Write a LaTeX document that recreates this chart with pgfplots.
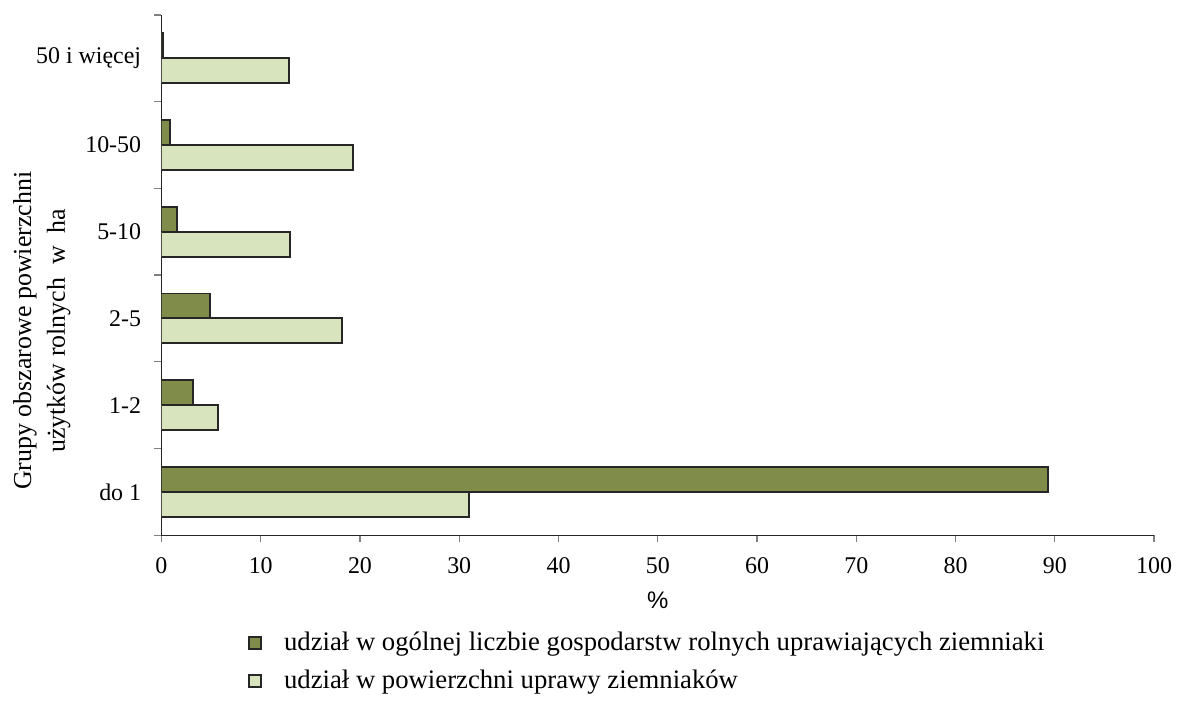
\documentclass[border=0pt]{standalone}
\usepackage{fontspec}
\setmainfont{Liberation Serif}
\newfontfamily\arial{Liberation Sans}
\usepackage{pgfplots}
\pgfplotsset{compat=1.18}
\definecolor{darkolive}{HTML}{7F8C4A}
\definecolor{lightolive}{HTML}{D7E4BD}
\definecolor{barline}{HTML}{262626}

\begin{document}
\fontsize{12}{14}\selectfont
\begin{tikzpicture}
\begin{axis}[
  scale only axis,
  width=498pt, height=261pt,
  xbar, bar width=12.5pt,
  xmin=0, xmax=100, ymin=-0.5, ymax=5.5,
  axis lines=left,
  axis line style={-, black!85, line width=0.6pt},
  xtick={0,10,...,100},
  ytick={0,...,5},
  yticklabels={do 1,1-2,2-5,5-10,10-50,50 i więcej},
  minor ytick={-0.5,0.5,...,5.5},
  tick align=outside,
  major tick length=3.5pt,
  minor tick length=3.5pt,
  every major y tick/.append style={draw=none},
  every minor y tick/.append style={gray, line width=0.6pt},
  every major x tick/.append style={gray, line width=0.6pt},
  tick label style={font=\fontsize{12}{14}\selectfont},
  xticklabel style={yshift=-3.5pt},
  yticklabel style={xshift=-2.5pt},
  /pgf/number format/assume math mode=true,
  every axis y label/.style={at={([xshift=-60pt]rel axis cs:0,0.393)}, rotate=90, anchor=center, align=center, font=\fontsize{13}{17}\selectfont},
  ylabel={Grupy obszarowe powierzchni\\użytków rolnych\ \ w\ \ ha},
  every axis x label/.style={at={(axis description cs:0.5,-0.1245)}, anchor=center},
  xlabel={\arial\%},
  legend style={at={(0.081,-0.170)}, anchor=north west, draw=none, fill=none,
    row sep=4pt, font=\fontsize{13.4}{16}\selectfont,
    /tikz/every odd column/.append style={column sep=9pt}},
  legend cell align=left,
]
\addplot[fill=darkolive, draw=barline, line width=1pt, bar shift=6.25pt,
  legend image code/.code={\draw[fill=darkolive, draw=barline, line width=1pt] (0pt,-3pt) rectangle (6pt,3pt);}]
  coordinates {(89.3,0) (3.2,1) (4.9,2) (1.6,3) (0.9,4) (0.2,5)};
\addlegendentry{udział w ogólnej liczbie gospodarstw rolnych uprawiających ziemniaki}
\addplot[fill=lightolive, draw=barline, line width=1pt, bar shift=-6.25pt,
  legend image code/.code={\draw[fill=lightolive, draw=barline, line width=1pt] (0pt,-3pt) rectangle (6pt,3pt);}]
  coordinates {(31.0,0) (5.7,1) (18.2,2) (13.0,3) (19.3,4) (12.8,5)};
\addlegendentry{udział w powierzchni uprawy ziemniaków}
\end{axis}
\path ([xshift=-81pt,yshift=7.5pt]current axis.north west) rectangle ([xshift=11pt,yshift=-78pt]current axis.south east);
\end{tikzpicture}
\end{document}
